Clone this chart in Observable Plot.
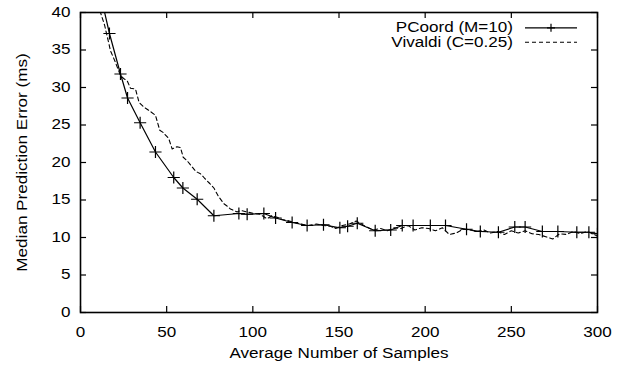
<!DOCTYPE html>
<html>
<head>
<meta charset="utf-8">
<script src="https://cdn.jsdelivr.net/npm/d3@7"></script>
<script src="https://cdn.jsdelivr.net/npm/@observablehq/plot@0.6"></script>
<style>
  html, body { margin: 0; padding: 0; background: #fff; }
  #chart { width: 617px; height: 370px; }
</style>
</head>
<body>
<div id="chart"></div>
<script>
const pcoordX = [10, 16.8, 23.2, 27.3, 34.6, 43.5, 54.1, 59.4, 67.7, 77.4, 91.9, 96.7, 106.4, 113.2, 122.8, 131.5, 141, 150.5, 155, 160.6, 171, 180, 186.7, 193, 203, 211.8, 224, 232, 242.5, 252, 258, 268, 277, 288, 295, 300];
const pcoordY = [44, 37.2, 31.8, 28.6, 25.3, 21.4, 18.0, 16.6, 15.1, 12.9, 13.2, 13.1, 13.2, 12.6, 12.0, 11.6, 11.7, 11.3, 11.5, 11.9, 10.9, 11.0, 11.6, 11.6, 11.6, 11.6, 11.1, 10.8, 10.7, 11.4, 11.4, 10.8, 10.8, 10.7, 10.7, 10.5];

const vivaldiX = [10, 11.6, 14, 17.4, 20, 23.2, 25, 27.1, 29, 31.9, 34, 36.7, 40, 43.5, 46, 48, 51.2, 53.2, 56, 58, 59.6, 62, 64.8, 67, 69.6, 72, 75, 77.4, 80, 83.2, 85, 87, 90.9, 93, 96.7, 100.6, 104, 108.3, 111, 114.1, 117, 119.9, 124, 127.7, 132, 137, 141, 145, 148, 152, 156, 160, 163, 166, 170, 174, 178, 182, 186, 190, 194, 198, 202, 206, 210, 214, 218, 222, 226, 230, 234, 238, 242, 246, 250, 254, 258, 262, 266, 270, 274, 278, 282, 286, 290, 294, 298, 300];
const vivaldiY = [43, 40, 38.3, 34.9, 33.5, 31.6, 31.2, 30.9, 29.9, 29.8, 28, 27.4, 26.9, 26.3, 24.3, 24.0, 23.2, 21.8, 22.1, 22.0, 20.7, 20.2, 19.4, 18.8, 18.5, 17.9, 17.2, 16.6, 15.5, 14.5, 14.2, 13.8, 13.4, 13.6, 13.4, 13.2, 13.1, 12.5, 12.9, 12.7, 12.4, 12.3, 12.0, 11.8, 11.6, 11.8, 11.6, 11.5, 11.2, 11.6, 11.8, 12.2, 11.8, 11.4, 11.0, 11.2, 10.9, 11.3, 11.2, 11.6, 11.0, 11.3, 11.2, 10.9, 11.3, 10.4, 10.6, 11.1, 11.0, 10.8, 11.0, 10.6, 10.8, 10.4, 10.9, 10.6, 10.9, 10.5, 10.4, 10.1, 9.8, 10.5, 10.4, 10.8, 10.5, 10.8, 10.4, 10.2];

const seriesNames = ["PCoord (M=10)", "Vivaldi (C=0.25)"];
const xTicks = [0, 50, 100, 150, 200, 250, 300];
const yTicks = [0, 5, 10, 15, 20, 25, 30, 35, 40];
const xLabel = "Average Number of Samples";
const yLabel = "Median Prediction Error (ms)";

const pcoord = pcoordX.map((x, i) => ({x, y: pcoordY[i]}));
const vivaldi = vivaldiX.map((x, i) => ({x, y: vivaldiY[i]}));

const font = "'Liberation Sans', Arial, Helvetica, sans-serif";

const plot = Plot.plot({
  width: 617,
  height: 370,
  marginLeft: 80,
  marginRight: 20,
  marginTop: 12,
  marginBottom: 58,
  style: {fontFamily: font, fontSize: "14px", color: "black", background: "white"},
  x: {domain: [0, 300]},
  y: {domain: [0, 40]},
  marks: [
    Plot.axisX({ticks: xTicks, tickSize: 0, tickPadding: 15, label: null, fontSize: 14}),
    Plot.axisY({ticks: yTicks, tickSize: 0, tickPadding: 10, label: null, fontSize: 14}),
    Plot.ruleX(xTicks, {x: d => d, y1: 0, y2: 0.8, stroke: "black", strokeWidth: 1.2}),
    Plot.ruleX(xTicks, {x: d => d, y1: 40, y2: 39.2, stroke: "black", strokeWidth: 1.2}),
    Plot.ruleY(yTicks, {y: d => d, x1: 0, x2: 3.5, stroke: "black", strokeWidth: 1.2}),
    Plot.ruleY(yTicks, {y: d => d, x1: 300, x2: 296.5, stroke: "black", strokeWidth: 1.2}),
    Plot.line(vivaldi, {x: "x", y: "y", stroke: "black", strokeWidth: 1.1, strokeDasharray: "4,3", clip: true}),
    Plot.line(pcoord, {x: "x", y: "y", stroke: "black", strokeWidth: 1.2, clip: true}),
    Plot.dot(pcoord, {x: "x", y: "y", symbol: "plus", r: 4, stroke: "black", strokeWidth: 1.2, clip: true}),
    Plot.frame({stroke: "black", strokeWidth: 1.6}),
    Plot.text([xLabel], {text: d => d, frameAnchor: "bottom", dy: 45, fontSize: 14, fill: "black", textAnchor: "middle"}),
    Plot.text([yLabel], {text: d => d, frameAnchor: "left", dx: -58, rotate: -90, fontSize: 14, fill: "black", textAnchor: "middle"})
  ]
});

// legend
const svg = d3.select(plot);
const legendY = [27, 41.5];
seriesNames.forEach((name, i) => {
  const g = svg.append("g");
  g.append("text")
    .attr("x", 513).attr("y", legendY[i])
    .attr("text-anchor", "end").attr("dominant-baseline", "central")
    .attr("font-family", font).attr("font-size", 14).attr("fill", "black")
    .text(name);
  g.append("line")
    .attr("x1", 525).attr("x2", 577).attr("y1", legendY[i] + 0.8).attr("y2", legendY[i] + 0.8)
    .attr("stroke", "black").attr("stroke-width", i === 0 ? 1.2 : 1.1)
    .attr("stroke-dasharray", i === 0 ? null : "4,3");
  if (i === 0) {
    g.append("path")
      .attr("d", `M551,${legendY[i]-3.2}V${legendY[i]+4.8}M547,${legendY[i]+0.8}H555`)
      .attr("stroke", "black").attr("stroke-width", 1.2);
  }
});

document.getElementById("chart").appendChild(plot);

// the reference typeface is wider than Liberation Sans: stretch glyphs horizontally
svg.selectAll("text").each(function() {
  const len = this.getComputedTextLength();
  if (len > 0) {
    this.setAttribute("textLength", (len * 1.22).toFixed(1));
    this.setAttribute("lengthAdjust", "spacingAndGlyphs");
  }
});
</script>
</body>
</html>
